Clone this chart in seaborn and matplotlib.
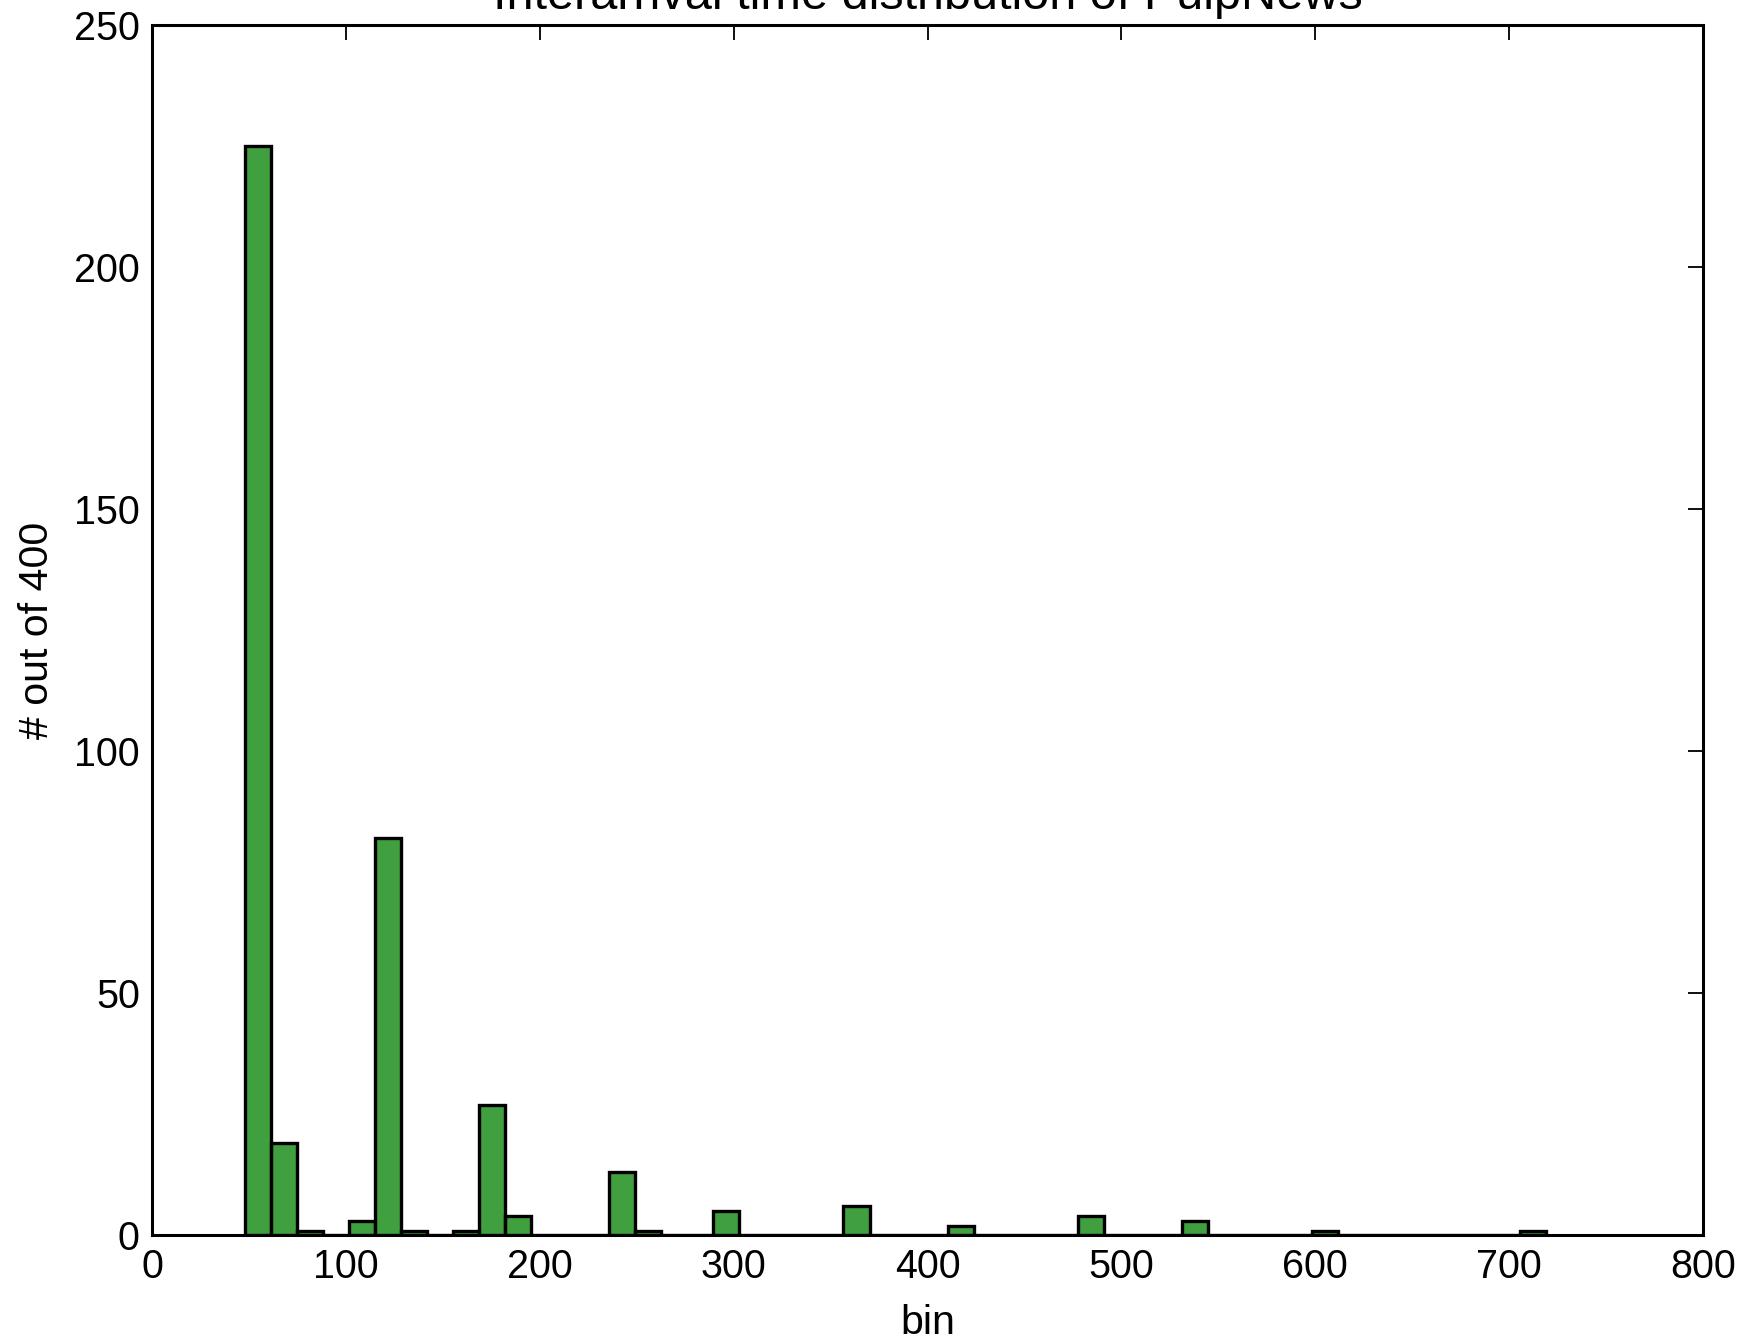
"""
Interarrival time histogram for PulpNews, classic matplotlib look.
"""

import numpy as np
import pandas as pd
import matplotlib

matplotlib.use("Agg")
import matplotlib.pyplot as plt
import seaborn as sns

# Histogram: 50 equal bins between the min and max interarrival time
bin_min = 48.0
bin_max = 719.0
n_bins = 50
# counts per bin (bins without a bar are 0)
counts = [
    225, 19, 1, 0, 3, 82, 1, 0, 1, 27,
    4, 0, 0, 0, 13, 1, 0, 0, 5, 0,
    0, 0, 0, 6, 0, 0, 0, 2, 0, 0,
    0, 0, 4, 0, 0, 0, 3, 0, 0, 0,
    0, 1, 0, 0, 0, 0, 0, 0, 0, 1,
]
x_ticks = [0, 100, 200, 300, 400, 500, 600, 700, 800]
y_ticks = [0, 50, 100, 150, 200, 250]

sns.set_style("white")
plt.rcParams.update(
    {
        "font.family": ["Liberation Sans", "DejaVu Sans"],
        "font.size": 13,
        "axes.linewidth": 1.0,
        "axes.edgecolor": "black",
        "xtick.direction": "in",
        "ytick.direction": "in",
        "xtick.top": True,
        "ytick.right": True,
        "xtick.major.size": 5,
        "ytick.major.size": 5,
        "xtick.major.width": 0.6,
        "ytick.major.width": 0.6,
        "xtick.color": "black",
        "ytick.color": "black",
        "axes.labelcolor": "black",
        "text.color": "black",
    }
)

edges = np.linspace(bin_min, bin_max, n_bins + 1)
df = pd.DataFrame({"t": (edges[:-1] + edges[1:]) / 2, "n": counts})

fig = plt.figure(figsize=(1753 / 219, 1343 / 219), dpi=219)
ax = fig.add_axes([0.0867, 0.0801, 0.9715 - 0.0867, 0.9817 - 0.0801])

sns.histplot(
    data=df,
    x="t",
    weights="n",
    bins=n_bins,
    binrange=(bin_min, bin_max),
    color="green",
    alpha=0.75,
    edgecolor="black",
    linewidth=1.1,
    ax=ax,
)

ax.set_xlim(0, 800)
ax.set_ylim(0, 250)
ax.set_xticks(x_ticks)
ax.set_yticks(y_ticks)
ax.tick_params(labelsize=13, pad=4)
# the title sits partly above the top edge, as in the original figure
ax.set_title("Interarrival time distribution of PulpNews", fontsize=16, pad=5)
ax.set_xlabel("bin", fontsize=13.5, labelpad=6)
ax.set_ylabel("# out of 400", fontsize=13.5, labelpad=6)
for s in ax.spines.values():
    s.set_visible(True)

fig.savefig("out.png", dpi=219)
